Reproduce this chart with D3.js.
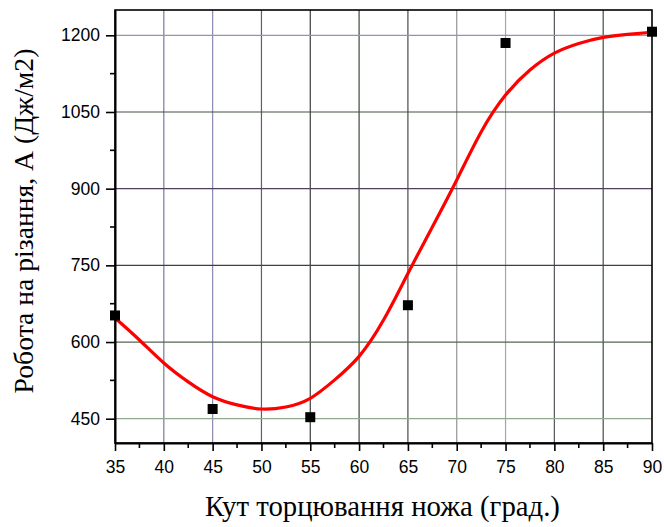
<!DOCTYPE html>
<html>
<head>
<meta charset="utf-8">
<script src="https://cdn.jsdelivr.net/npm/d3@7"></script>
<style>
  html, body { margin: 0; padding: 0; background: #fff; }
  svg { display: block; }
</style>
</head>
<body>
<svg id="chart" width="664" height="527"></svg>
<script>
// Measured points: cutting angle (deg) vs cutting work (J/m2)
const angles = [35, 45, 55, 65, 75, 90];
const work = [652, 469, 453, 672, 1185, 1207];

// Fitted curve, sampled every 2.5 degrees
const fitAngles = [35, 37.5, 40, 42.5, 45, 47.5, 50, 52.5, 55, 57.5, 60, 62.5, 65, 67.5, 70, 72.5, 75, 77.5, 80, 82.5, 85, 87.5, 90];
const fitWork = [647, 604, 559, 522, 493, 477, 469, 473, 490, 526, 572, 643, 734, 825, 917, 1011, 1083, 1132, 1165, 1184, 1196, 1202, 1206];

// Axis ticks
const xTicks = [35, 40, 45, 50, 55, 60, 65, 70, 75, 80, 85, 90];
const xMinorTicks = [37.5, 42.5, 47.5, 52.5, 57.5, 62.5, 67.5, 72.5, 77.5, 82.5, 87.5];
const yTicks = [450, 600, 750, 900, 1050, 1200];
const yMinorTicks = [525, 675, 825, 975, 1125];

const xTitle = "Кут торцювання ножа (град.)";
const yTitle = "Робота на різання, А (Дж/м2)";

const svg = d3.select("#chart");
const L = 115, R = 652, T = 10, B = 443;

const x = d3.scaleLinear().domain([35, 90]).range([L, R]);
const y = d3.scaleLinear().domain([402.5, 1249.5]).range([B, T]);

// grid line tints
const vGridColor = {40: "#7a7a9c", 45: "#8a8ab2", 50: "#6a5a6a", 55: "#3c3c3c", 60: "#3a4a3a",
  65: "#4a4a4a", 70: "#959595", 75: "#a4a4b4", 80: "#555562", 85: "#405040"};
const hGridColor = {450: "#90aa90", 600: "#506850", 750: "#404040", 900: "#504060", 1050: "#405040", 1200: "#9494aa"};

const grid = svg.append("g");
grid.selectAll("line.v").data(xTicks.filter(d => d > 35 && d < 90)).join("line")
  .attr("x1", d => x(d)).attr("x2", d => x(d))
  .attr("y1", T).attr("y2", B)
  .attr("stroke", d => vGridColor[d]).attr("stroke-width", 1.2);
grid.selectAll("line.h").data(yTicks).join("line")
  .attr("x1", L).attr("x2", R)
  .attr("y1", d => y(d)).attr("y2", d => y(d))
  .attr("stroke", d => hGridColor[d]).attr("stroke-width", 1.2);

// frame
svg.append("rect").attr("x", L).attr("y", T).attr("width", R - L).attr("height", B - T)
  .attr("fill", "none").attr("stroke", "#000").attr("stroke-width", 1.6);

// fitted curve
const fit = fitAngles.map((a, i) => [a, fitWork[i]]);
svg.append("path")
  .datum(fit)
  .attr("fill", "none")
  .attr("stroke", "#ff0000")
  .attr("stroke-width", 3.2)
  .attr("d", d3.line().x(d => x(d[0])).y(d => y(d[1])).curve(d3.curveNatural));

// measured points
const pts = angles.map((a, i) => [a, work[i]]);
svg.append("g").selectAll("rect").data(pts).join("rect")
  .attr("x", d => x(d[0]) - 5).attr("y", d => y(d[1]) - 5)
  .attr("width", 10).attr("height", 10).attr("fill", "#000");

const tickFont = "Liberation Sans, Arial, sans-serif";
const titleFont = "Liberation Serif, Times New Roman, serif";

// axes
const xAxis = d3.axisBottom(x).tickValues(xTicks).tickFormat(d3.format("d"))
  .tickSize(8).tickSizeOuter(0).tickPadding(10);
const gx = svg.append("g").attr("transform", `translate(0,${B})`).call(xAxis);
gx.select(".domain").attr("stroke-width", 2);
gx.selectAll(".tick line").attr("stroke-width", 1.6);
gx.selectAll("text").attr("font-family", tickFont).attr("font-size", 17.5).attr("fill", "#000");
gx.selectAll(".minor").data(xMinorTicks).join("line").attr("class", "minor")
  .attr("x1", d => x(d)).attr("x2", d => x(d)).attr("y1", 0).attr("y2", 5)
  .attr("stroke", "#000").attr("stroke-width", 1.6);

const yAxis = d3.axisLeft(y).tickValues(yTicks).tickFormat(d3.format("d"))
  .tickSize(9).tickSizeOuter(0).tickPadding(6);
const gy = svg.append("g").attr("transform", `translate(${L},0)`).call(yAxis);
gy.select(".domain").attr("stroke-width", 2);
gy.selectAll(".tick line").attr("stroke-width", 1.6);
gy.selectAll("text").attr("font-family", tickFont).attr("font-size", 17.5).attr("fill", "#000");
gy.selectAll(".minor").data(yMinorTicks).join("line").attr("class", "minor")
  .attr("x1", -5).attr("x2", 0).attr("y1", d => y(d)).attr("y2", d => y(d))
  .attr("stroke", "#000").attr("stroke-width", 1.6);

// size a title so that it spans the given length
function fitTitle(sel, span) {
  const base = 26;
  sel.attr("font-size", base);
  const len = sel.node().getComputedTextLength();
  sel.attr("font-size", base * span / len);
}

// axis titles
const xt = svg.append("text")
  .attr("x", (L + R) / 2 - 1).attr("y", 516)
  .attr("text-anchor", "middle")
  .attr("font-family", titleFont).attr("fill", "#000")
  .text(xTitle);
fitTitle(xt, 355);

const yt = svg.append("text")
  .attr("transform", `translate(33,221) rotate(-90)`)
  .attr("text-anchor", "middle")
  .attr("font-family", titleFont).attr("fill", "#000")
  .text(yTitle);
fitTitle(yt, 345);
</script>
</body>
</html>
